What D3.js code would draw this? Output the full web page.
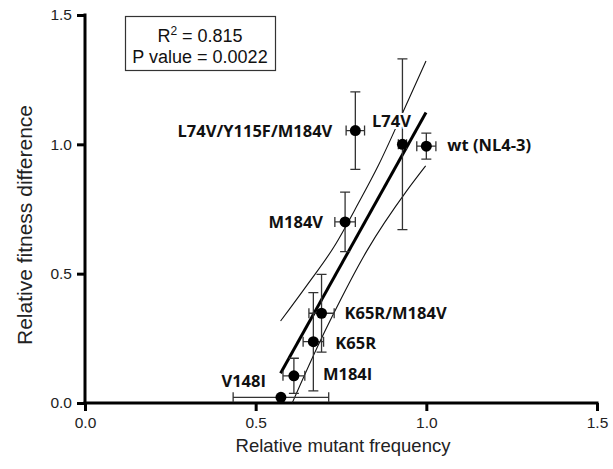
<!DOCTYPE html>
<html>
<head>
<meta charset="utf-8">
<script src="https://cdn.jsdelivr.net/npm/d3@7"></script>
<style>
    html, body { margin: 0; padding: 0; background: #fff; }
    svg { display: block; }
</style>
</head>
<body>
<svg id="chart" width="613" height="469"></svg>
<script>
"use strict";

// values
const mutants = ["wt (NL4-3)", "L74V", "L74V/Y115F/M184V", "M184V", "K65R/M184V", "K65R", "M184I", "V148I"];
const mutantFreq = [1.0, 0.93, 0.792, 0.762, 0.693, 0.669, 0.612, 0.574];
const mutantFreqErr = [0.028, 0.012, 0.027, 0.03, 0.037, 0.03, 0.032, 0.14];
const fitnessDiff = [0.993, 1.0, 1.053, 0.70, 0.347, 0.237, 0.105, 0.022];
const fitnessErr = [0.05, 0.33, 0.15, 0.115, 0.15, 0.19, 0.068, 0];

// linear fit and its 95% band, as drawn
const fitLine = [[0.573, 0.115], [0.999, 1.123]];
const upperBand = [[0.573, 0.317], [0.65, 0.455], [0.73, 0.605], [0.80, 0.77], [0.86, 0.92], [0.93, 1.12], [0.999, 1.322]];
const lowerBand = [[0.607, 0.0], [0.686, 0.231], [0.724, 0.334], [0.827, 0.591], [0.944, 0.823], [0.998, 0.917]];

const xTicks = [0.0, 0.5, 1.0, 1.5];
const yTicks = [0.0, 0.5, 1.0, 1.5];
const stats = { r2: "0.815", p: "0.0022" };

// where each label sits relative to its point (pixels)
const labelPlacement = [
    { dx: 21, dy: 5, anchor: "start" },
    { dx: -11, dy: -17, anchor: "middle" },
    { dx: -23, dy: 6, anchor: "end" },
    { dx: -22, dy: 6, anchor: "end" },
    { dx: 23, dy: 6, anchor: "start" },
    { dx: 22, dy: 7, anchor: "start" },
    { dx: 29, dy: 4, anchor: "start" },
    { dx: -15, dy: -10, anchor: "end" }
];

const svg = d3.select("#chart");
const x = d3.scaleLinear().domain([0, 1.5]).range([85, 597]);
const y = d3.scaleLinear().domain([0, 1.5]).range([403, 15]);

const points = mutants.map((name, i) => ({
    name: name,
    x: mutantFreq[i],
    y: fitnessDiff[i],
    ex: mutantFreqErr[i],
    ey: fitnessErr[i],
    place: labelPlacement[i]
}));

// axes
const xAxis = svg.append("g")
    .attr("transform", `translate(0, ${y(0)})`)
    .call(d3.axisBottom(x).tickValues(xTicks).tickFormat(d3.format(".1f")).tickSizeOuter(0).tickSizeInner(8).tickPadding(6));
const yAxis = svg.append("g")
    .attr("transform", `translate(${x(0)}, 0)`)
    .call(d3.axisLeft(y).tickValues(yTicks).tickFormat(d3.format(".1f")).tickSizeOuter(0).tickSizeInner(8).tickPadding(5));

[xAxis, yAxis].forEach(a => {
    a.select(".domain").attr("stroke", "#000").attr("stroke-width", 3);
    a.selectAll(".tick line").attr("stroke", "#000").attr("stroke-width", 3);
    a.selectAll(".tick text")
        .attr("fill", "#222")
        .style("font-family", "'Liberation Sans', Arial, sans-serif")
        .style("font-size", "15.5px");
});
// extend x axis across the y axis width
xAxis.select(".domain").attr("d", `M${x(0) - 1.5},0H${x(1.5) + 1.5}`);
yAxis.select(".domain").attr("d", `M0,${y(1.5) - 1.5}V${y(0)}`);

svg.append("text")
    .attr("x", 343)
    .attr("y", 452)
    .attr("text-anchor", "middle")
    .style("font-family", "'Liberation Sans', Arial, sans-serif")
    .style("font-size", "18.5px")
    .attr("fill", "#222")
    .text("Relative mutant frequency");

svg.append("text")
    .attr("transform", "translate(32, 225) rotate(-90)")
    .attr("text-anchor", "middle")
    .style("font-family", "'Liberation Sans', Arial, sans-serif")
    .style("font-size", "21px")
    .attr("fill", "#222")
    .text("Relative fitness difference");

// fit and confidence band
const line = d3.line().x(d => x(d[0])).y(d => y(d[1]));
const bandLine = d3.line().x(d => x(d[0])).y(d => y(d[1])).curve(d3.curveMonotoneX);

svg.append("path")
    .attr("d", bandLine(upperBand))
    .attr("fill", "none").attr("stroke", "#111").attr("stroke-width", 1.1);
svg.append("path")
    .attr("d", bandLine(lowerBand))
    .attr("fill", "none").attr("stroke", "#111").attr("stroke-width", 1.1);
svg.append("path")
    .attr("d", line(fitLine))
    .attr("fill", "none").attr("stroke", "#000").attr("stroke-width", 3);

// error bars
const bars = svg.append("g")
    .attr("stroke", "#333")
    .attr("stroke-width", 1.3)
    .attr("fill", "none");
const cap = 5;
points.forEach(d => {
    if (d.ey > 0) {
        bars.append("path").attr("d",
            `M${x(d.x)},${y(d.y + d.ey)}V${y(d.y - d.ey)}` +
            `M${x(d.x) - cap},${y(d.y + d.ey)}h${2 * cap}` +
            `M${x(d.x) - cap},${y(d.y - d.ey)}h${2 * cap}`);
    }
    if (d.ex > 0) {
        bars.append("path").attr("d",
            `M${x(d.x - d.ex)},${y(d.y)}H${x(d.x + d.ex)}` +
            `M${x(d.x - d.ex)},${y(d.y) - cap}v${2 * cap}` +
            `M${x(d.x + d.ex)},${y(d.y) - cap}v${2 * cap}`);
    }
});

// points
svg.append("g")
    .selectAll("circle")
    .data(points)
    .join("circle")
    .attr("cx", d => x(d.x))
    .attr("cy", d => y(d.y))
    .attr("r", 5.5)
    .attr("fill", "#000");

// labels with white backing so lines break behind them
svg.append("g")
    .selectAll("text")
    .data(points)
    .join("text")
    .attr("x", d => x(d.x) + d.place.dx)
    .attr("y", d => y(d.y) + d.place.dy)
    .attr("text-anchor", d => d.place.anchor)
    .style("font-family", "'Open Sans', sans-serif")
    .style("font-weight", "bold")
    .style("font-size", "16.5px")
    .style("paint-order", "stroke")
    .attr("stroke", "#fff")
    .attr("stroke-width", 4)
    .attr("fill", "#111")
    .text(d => d.name);

// stats box
const box = svg.append("g");
box.append("rect")
    .attr("x", 125.5).attr("y", 16.5)
    .attr("width", 150).attr("height", 54)
    .attr("fill", "#fff")
    .attr("stroke", "#333")
    .attr("stroke-width", 1.2);
const r2 = box.append("text")
    .attr("x", 200).attr("y", 42)
    .attr("text-anchor", "middle")
    .style("font-family", "'Liberation Sans', Arial, sans-serif")
    .style("font-size", "18px")
    .attr("fill", "#111");
r2.append("tspan").text("R");
r2.append("tspan").attr("dy", -7).style("font-size", "12px").text("2");
r2.append("tspan").attr("dy", 7).text(` = ${stats.r2}`);
box.append("text")
    .attr("x", 200).attr("y", 63)
    .attr("text-anchor", "middle")
    .style("font-family", "'Liberation Sans', Arial, sans-serif")
    .style("font-size", "18px")
    .attr("fill", "#111")
    .text(`P value = ${stats.p}`);
</script>
</body>
</html>
